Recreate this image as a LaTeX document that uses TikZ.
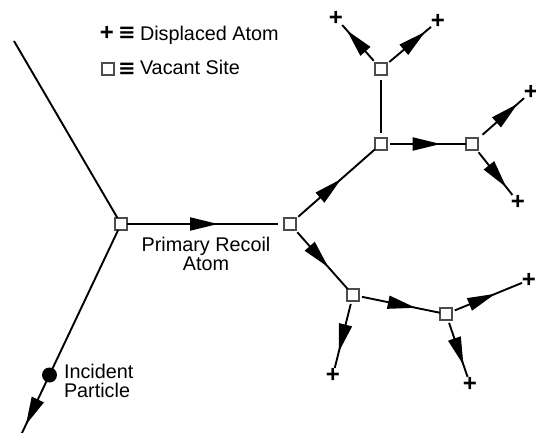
\documentclass[tikz,border=0pt]{standalone}
\usepackage{fontspec}
\setmainfont{Liberation Sans}
\newfontfamily\symbolfont{DejaVu Sans}
\usetikzlibrary{arrows.meta,decorations.markings}

\tikzset{
  vacancy/.style={draw=black!70, fill=white, line width=1.1pt, minimum size=12pt,
    inner sep=0pt, outer sep=0pt},
  displaced/.style={font=\fontsize{24}{24}\selectfont\bfseries, inner sep=0pt,
    outer sep=0pt, minimum size=12pt},
  track/.style={line width=1.9pt, shorten <=3pt},
  headat/.style={decoration={markings, mark=at position #1 with
    {\arrow{Triangle[length=28pt,width=13pt]}}}, postaction={decorate}},
  txt/.style={inner sep=0pt, outer sep=0pt},
  equiv/.style={inner sep=0pt, outer sep=0pt,
    font=\symbolfont\fontsize{21}{21}\selectfont\bfseries},
}

\begin{document}
\begin{tikzpicture}[x=1pt, y=-1pt, font=\fontsize{19.8}{19.8}\selectfont]
\useasboundingbox (0,0) rectangle (536,433);

% legend
\node[displaced] (keyplus) at (107,33) {+};
\node[equiv] (keyeq1) at (127,33) {≡};
\node[txt, anchor=base west] (keytxt1) at (140,41) {Displaced Atom};
\node[vacancy] (keybox) at (108,69) {};
\node[equiv] (keyeq2) at (127,69) {≡};
\node[txt, anchor=base west] (keytxt2) at (140,75) {Vacant Site};

% vacant sites
\node[vacancy] (A) at (121,224) {};
\node[vacancy] (B) at (290,224) {};
\node[vacancy] (C) at (381,144) {};
\node[vacancy] (D) at (381,69) {};
\node[vacancy] (E) at (472,144) {};
\node[vacancy] (F) at (353,295) {};
\node[vacancy] (G) at (446,314) {};

% displaced atoms
\node[displaced] (D1) at (336,18) {+};
\node[displaced] (D2) at (438,21) {+};
\node[displaced] (E1) at (531,92) {+};
\node[displaced] (E2) at (518,202) {+};
\node[displaced] (F1) at (333,375) {+};
\node[displaced] (G1) at (470,384) {+};
\node[displaced] (G2) at (529,280) {+};

% incident particle track
\coordinate (in) at (14,41);
\coordinate (out) at (21.5,434);
\draw[line width=1.9pt] (in) -- (A);
\draw[track, shorten <=0pt, headat=0.955] (A) -- (out);
\node[circle, fill=black, minimum size=15pt, inner sep=0pt] (particle) at (49.5,375) {};
\node[txt, anchor=west, align=left] (particletxt) at (64,381) {Incident\\Particle};

% primary recoil atom
\draw[track, shorten <=0pt, shorten >=6pt, headat=0.58] (A) -- (B);
\node[txt, align=center] (pkatxt) at (206,254) {Primary Recoil\\Atom};

% cascade
\draw[track, headat=0.57] (B) -- (C);
\draw[track, shorten >=5pt, shorten <=5pt] (C) -- (D);
\draw[track, headat=0.68] (C) -- (E);
\draw[track, headat=0.86] (D) -- (D1);
\draw[track, headat=0.87] (D) -- (D2);
\draw[track, shorten <=6pt, headat=0.86] (E) -- (E1);
\draw[track, headat=0.83] (E) -- (E2);
\draw[track, headat=0.63] (B) -- (F);
\draw[track, headat=0.70] (F) -- (G);
\draw[track, headat=0.76] (F) -- (F1);
\draw[track, headat=0.79] (G) -- (G1);
\draw[track, headat=0.62] (G) -- (G2);
\end{tikzpicture}
\end{document}
